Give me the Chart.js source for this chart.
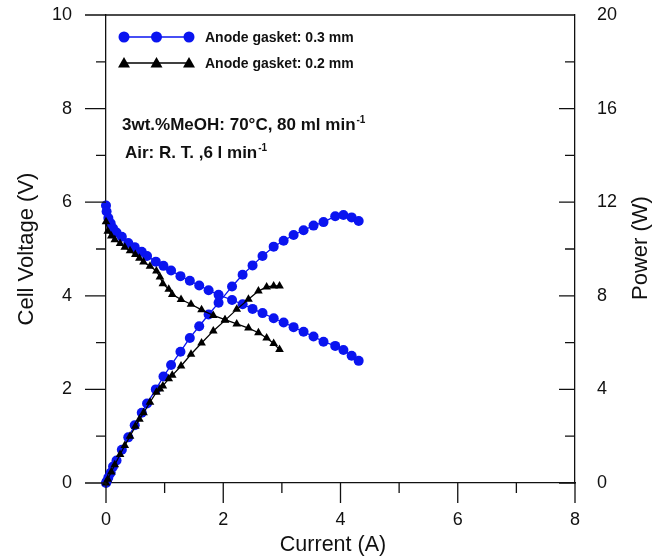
<!DOCTYPE html>
<html>
<head>
<meta charset="utf-8">
<script src="https://cdn.jsdelivr.net/npm/chart.js@4.4.1/dist/chart.umd.min.js"></script>
<style>
  html, body { margin: 0; padding: 0; background: #fff; }
  #wrap { position: relative; width: 663px; height: 558px; }
</style>
</head>
<body>
<div id="wrap"><canvas id="dmfcChart" width="663" height="558"></canvas></div>
<script>
// Anode gasket 0.3 mm (blue circles)
const current03 = [0, 0.01, 0.04, 0.08, 0.12, 0.18, 0.27, 0.38, 0.49, 0.61, 0.70, 0.85, 0.98, 1.11, 1.27, 1.43, 1.59, 1.75, 1.92, 2.15, 2.33, 2.50, 2.67, 2.86, 3.03, 3.20, 3.37, 3.54, 3.71, 3.91, 4.05, 4.19, 4.31];
const voltage03 = [5.93, 5.80, 5.66, 5.55, 5.44, 5.35, 5.26, 5.13, 5.04, 4.94, 4.85, 4.73, 4.64, 4.54, 4.42, 4.32, 4.22, 4.12, 4.02, 3.91, 3.82, 3.72, 3.63, 3.52, 3.43, 3.33, 3.23, 3.13, 3.02, 2.93, 2.84, 2.72, 2.61];
const power03 = [0, 0.06, 0.23, 0.44, 0.70, 0.96, 1.42, 1.95, 2.47, 3.0, 3.4, 4.0, 4.55, 5.04, 5.61, 6.2, 6.7, 7.2, 7.7, 8.4, 8.9, 9.3, 9.7, 10.1, 10.35, 10.6, 10.8, 11.0, 11.15, 11.4, 11.45, 11.35, 11.2];

// Anode gasket 0.2 mm (black triangles)
const current02 = [0, 0.03, 0.09, 0.15, 0.24, 0.32, 0.41, 0.50, 0.57, 0.64, 0.75, 0.86, 0.92, 0.97, 1.07, 1.13, 1.28, 1.45, 1.63, 1.83, 2.03, 2.23, 2.43, 2.60, 2.74, 2.86, 2.96];
const voltage02 = [5.58, 5.38, 5.28, 5.20, 5.12, 5.04, 4.96, 4.88, 4.80, 4.72, 4.63, 4.53, 4.40, 4.26, 4.14, 4.03, 3.92, 3.82, 3.70, 3.58, 3.49, 3.40, 3.31, 3.21, 3.10, 2.98, 2.85];
const power02 = [0, 0.16, 0.47, 0.78, 1.22, 1.6, 2.0, 2.42, 2.72, 3.0, 3.45, 3.88, 4.02, 4.15, 4.45, 4.6, 5.0, 5.5, 5.98, 6.5, 6.95, 7.42, 7.85, 8.2, 8.38, 8.42, 8.42];

const seriesLabels = ['Anode gasket: 0.3 mm', 'Anode gasket: 0.2 mm'];
const noteLines = ['3wt.%MeOH: 70°C, 80 ml min', 'Air: R. T. ,6 l min'];
const xTitle = 'Current (A)';
const rightTitle = 'Power (W)';

const BLUE = '#0a14f0';
const INK = '#111';
const FONT = "'Liberation Sans', Arial, Helvetica, sans-serif";

const toPoints = (xs, ys) => xs.map((x, i) => ({ x, y: ys[i] }));

const baseSet = (color, style, radius) => ({
    borderColor: color,
    backgroundColor: color,
    borderWidth: 1.3,
    pointStyle: style,
    pointRadius: radius,
    pointBorderWidth: 0,
    showLine: true,
    tension: 0,
    clip: false
});

// pin the plot box: no automatic label overhang padding
const fixV = w => s => { s.width = w; s.paddingTop = 0; s.paddingBottom = 0; };
const fixH = h => s => { s.height = h; s.paddingLeft = 0; s.paddingRight = 0; };

// minor/major ticks, top frame, titles, legend and notes
const framePlugin = {
    id: 'framePlugin',
    afterDraw(chart) {
        const { ctx, chartArea: a, scales } = chart;
        ctx.save();
        ctx.strokeStyle = INK;
        ctx.lineWidth = 1.3;
        ctx.beginPath();
        ctx.moveTo(a.left, a.top);
        ctx.lineTo(a.right, a.top);
        for (let v = 0; v <= 8; v++) {
            const px = scales.x.getPixelForValue(v);
            ctx.moveTo(px, a.bottom);
            ctx.lineTo(px, a.bottom + (v % 2 === 0 ? 20 : 10));
        }
        for (let v = 0; v <= 10; v++) {
            const py = scales.y.getPixelForValue(v);
            ctx.moveTo(a.left, py);
            ctx.lineTo(a.left - (v % 2 === 0 ? 21 : 10), py);
        }
        for (let v = 0; v <= 20; v += 2) {
            const py = scales.y2.getPixelForValue(v);
            ctx.moveTo(a.right, py);
            ctx.lineTo(a.right - (v % 4 === 0 ? 16 : 10), py);
        }
        ctx.stroke();

        ctx.fillStyle = INK;
        ctx.textAlign = 'center';
        ctx.textBaseline = 'middle';
        ctx.font = `21.5px ${FONT}`;
        ctx.fillText(xTitle, 333, 545);

        // right axis title reads bottom-to-top like the left one
        ctx.save();
        ctx.translate(641, 248);
        ctx.rotate(-Math.PI / 2);
        ctx.font = `22px ${FONT}`;
        ctx.fillText(rightTitle, 0, 0);
        ctx.restore();
        ctx.textAlign = 'left';

        // legend
        const rows = [
            { y: 37, color: BLUE, shape: 'circle' },
            { y: 63, color: '#000', shape: 'triangle' }
        ];
        rows.forEach((r, i) => {
            ctx.strokeStyle = r.color;
            ctx.fillStyle = r.color;
            ctx.lineWidth = 1.3;
            ctx.beginPath();
            ctx.moveTo(124, r.y);
            ctx.lineTo(189, r.y);
            ctx.stroke();
            [124, 156.5, 189].forEach(mx => {
                ctx.beginPath();
                if (r.shape === 'circle') {
                    ctx.arc(mx, r.y, 5.5, 0, Math.PI * 2);
                } else {
                    ctx.moveTo(mx, r.y - 6);
                    ctx.lineTo(mx + 6, r.y + 4.5);
                    ctx.lineTo(mx - 6, r.y + 4.5);
                    ctx.closePath();
                }
                ctx.fill();
            });
            ctx.fillStyle = INK;
            ctx.font = `bold 14px ${FONT}`;
            ctx.textBaseline = 'middle';
            ctx.fillText(seriesLabels[i], 205, r.y + 1);
        });

        // conditions
        ctx.textBaseline = 'alphabetic';
        [[122, 130], [125, 158]].forEach(([tx, ty], i) => {
            ctx.font = `bold 17px ${FONT}`;
            ctx.fillText(noteLines[i], tx, ty);
            const w = ctx.measureText(noteLines[i]).width;
            ctx.font = `bold 10px ${FONT}`;
            ctx.fillText('-1', tx + w + 1, ty - 7);
        });
        ctx.restore();
    }
};

new Chart(document.getElementById('dmfcChart'), {
    type: 'scatter',
    data: {
        datasets: [
            { ...baseSet('#000', 'triangle', 5), data: toPoints(current02, voltage02), yAxisID: 'y' },
            { ...baseSet('#000', 'triangle', 5), data: toPoints(current02, power02), yAxisID: 'y2' },
            { ...baseSet(BLUE, 'circle', 5), data: toPoints(current03, voltage03), yAxisID: 'y' },
            { ...baseSet(BLUE, 'circle', 5), data: toPoints(current03, power03), yAxisID: 'y2' }
        ]
    },
    options: {
        responsive: false,
        animation: false,
        layout: { padding: { top: 15, left: 0, right: 0, bottom: 0 } },
        plugins: { legend: { display: false }, tooltip: { enabled: false } },
        scales: {
            x: {
                type: 'linear', position: 'bottom', min: 0, max: 8,
                afterFit: fixH(75),
                grid: { display: false, drawTicks: false },
                border: { color: INK, width: 1.3 },
                ticks: { stepSize: 2, padding: 26, maxRotation: 0, color: INK, font: { family: FONT, size: 18 } },
                title: { display: false }
            },
            y: {
                type: 'linear', position: 'left', min: 0, max: 10,
                afterFit: fixV(106),
                grid: { display: false, drawTicks: false },
                border: { color: INK, width: 1.3 },
                ticks: { stepSize: 2, padding: 34, color: INK, font: { family: FONT, size: 18 } },
                title: { display: true, text: 'Cell Voltage (V)', color: INK, font: { family: FONT, size: 22 }, padding: { top: 14, bottom: 0 } }
            },
            y2: {
                type: 'linear', position: 'right', min: 0, max: 20,
                afterFit: fixV(88),
                grid: { display: false, drawTicks: false },
                border: { color: INK, width: 1.3 },
                ticks: { stepSize: 4, padding: 22, color: INK, font: { family: FONT, size: 18 } },
                title: { display: false }
            }
        }
    },
    plugins: [framePlugin]
});
</script>
</body>
</html>
